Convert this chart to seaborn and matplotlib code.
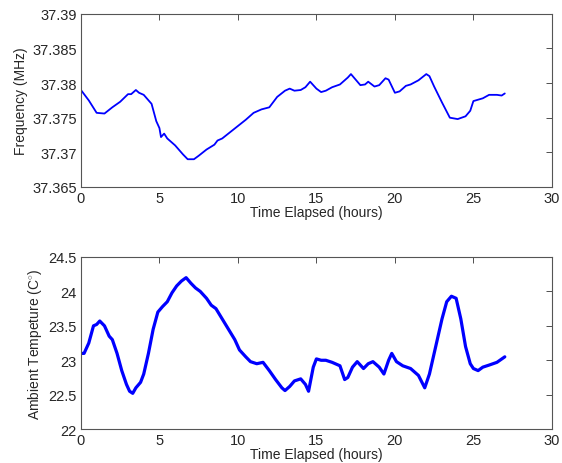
import numpy as np
import pandas as pd
import seaborn as sns
import matplotlib
matplotlib.use('Agg')
import matplotlib.pyplot as plt
from matplotlib.ticker import FuncFormatter

# frequency drift of the oscillator
freq_hours = [0, 0.5, 1.0, 1.5, 2.0, 2.5, 3.0, 3.2, 3.5, 3.7, 4.0, 4.5, 4.8, 5.0,
              5.1, 5.3, 5.5, 6.0, 6.5, 6.8, 7.2, 7.5, 8.0, 8.5, 8.7, 9.0, 9.5,
              10.0, 10.5, 11.0, 11.5, 12.0, 12.5, 13.0, 13.3, 13.6, 14.0, 14.3,
              14.6, 15.0, 15.3, 15.6, 16.0, 16.5, 17.0, 17.2, 17.5, 17.8, 18.1,
              18.3, 18.7, 19.0, 19.4, 19.6, 20.0, 20.3, 20.7, 21.0, 21.5, 22.0,
              22.2, 22.5, 23.0, 23.5, 24.0, 24.5, 24.8, 25.0, 25.3, 25.6, 26.0,
              26.5, 26.8, 27.0]
freq_mhz = [37.3790, 37.3775, 37.3757, 37.3756, 37.3765, 37.3773, 37.3784, 37.3784,
            37.3790, 37.3786, 37.3783, 37.3770, 37.3745, 37.3735, 37.3722, 37.3727,
            37.3720, 37.3710, 37.3697, 37.3690, 37.3690, 37.3695, 37.3704, 37.3711,
            37.3717, 37.3720, 37.3729, 37.3738, 37.3747, 37.3757, 37.3762, 37.3765,
            37.3780, 37.3789, 37.3792, 37.3789, 37.3790, 37.3794, 37.3802, 37.3792,
            37.3787, 37.3789, 37.3794, 37.3798, 37.3808, 37.3813, 37.3805, 37.3797,
            37.3798, 37.3802, 37.3795, 37.3797, 37.3807, 37.3805, 37.3786, 37.3788,
            37.3796, 37.3798, 37.3804, 37.3813, 37.3810, 37.3795, 37.3772, 37.3750,
            37.3748, 37.3752, 37.3760, 37.3774, 37.3776, 37.3778, 37.3783, 37.3783,
            37.3782, 37.3785]

# ambient temperature over the same run
temp_hours = [0, 0.2, 0.5, 0.8, 1.0, 1.2, 1.5, 1.8, 2.0, 2.3, 2.6, 2.9, 3.1, 3.3,
              3.5, 3.8, 4.0, 4.3, 4.6, 4.9, 5.2, 5.5, 5.8, 6.1, 6.4, 6.7, 7.0,
              7.3, 7.6, 8.0, 8.3, 8.6, 9.0, 9.4, 9.8, 10.1, 10.5, 10.8, 11.2,
              11.6, 12.0, 12.4, 12.8, 13.0, 13.3, 13.6, 14.0, 14.3, 14.5, 14.8,
              15.0, 15.3, 15.6, 16.0, 16.5, 16.8, 17.0, 17.3, 17.6, 18.0, 18.3,
              18.6, 19.0, 19.3, 19.6, 19.8, 20.1, 20.5, 21.0, 21.5, 21.9, 22.2,
              22.6, 23.0, 23.3, 23.6, 23.9, 24.2, 24.5, 24.8, 25.0, 25.3, 25.6,
              26.0, 26.5, 27.0]
temp_c = [23.10, 23.10, 23.25, 23.50, 23.52, 23.57, 23.50, 23.35, 23.30, 23.10,
          22.85, 22.65, 22.55, 22.52, 22.60, 22.68, 22.80, 23.10, 23.45, 23.70,
          23.78, 23.85, 23.98, 24.08, 24.15, 24.20, 24.12, 24.05, 24.00, 23.90,
          23.80, 23.75, 23.60, 23.45, 23.30, 23.15, 23.05, 22.98, 22.95, 22.97,
          22.85, 22.72, 22.60, 22.56, 22.62, 22.70, 22.73, 22.65, 22.55, 22.90,
          23.02, 23.00, 23.00, 22.97, 22.92, 22.72, 22.75, 22.90, 22.98, 22.88,
          22.95, 22.98, 22.90, 22.80, 23.00, 23.10, 22.98, 22.92, 22.88, 22.78,
          22.60, 22.80, 23.20, 23.60, 23.85, 23.93, 23.90, 23.60, 23.20, 22.95,
          22.88, 22.85, 22.90, 22.93, 22.97, 23.05]

freq = pd.DataFrame({'hours': freq_hours, 'mhz': freq_mhz})
temp = pd.DataFrame({'hours': temp_hours, 'deg': temp_c})

sns.set_style('white')
plt.rcParams['font.family'] = ['Liberation Sans', 'DejaVu Sans']
plt.rcParams['font.size'] = 10
plt.rcParams['mathtext.fontset'] = 'custom'
plt.rcParams['mathtext.rm'] = 'Liberation Sans'

fig = plt.figure(figsize=(5.62, 4.64), dpi=100)
ax1 = fig.add_axes([0.144, 0.595, 0.838, 0.373])
ax2 = fig.add_axes([0.144, 0.073, 0.838, 0.371])

sns.lineplot(data=freq, x='hours', y='mhz', ax=ax1, color='#0000ff',
             linewidth=1.3, estimator=None, sort=False)
sns.lineplot(data=temp, x='hours', y='deg', ax=ax2, color='#0000ff',
             linewidth=2.3, estimator=None, sort=False)

fmt = FuncFormatter(lambda v, p: f'{v:g}')
ax1.set(xlim=(0, 30), ylim=(37.365, 37.39),
        xticks=range(0, 31, 5), yticks=np.arange(37.365, 37.3901, 0.005),
        xlabel='Time Elapsed (hours)', ylabel='Frequency (MHz)')
ax2.set(xlim=(0, 30), ylim=(22, 24.5),
        xticks=range(0, 31, 5), yticks=np.arange(22, 24.51, 0.5),
        xlabel='Time Elapsed (hours)', ylabel=r'Ambient Tempeture (C$^{\circ}$)')

for ax in (ax1, ax2):
    ax.yaxis.set_major_formatter(fmt)
    ax.tick_params(direction='in', length=4, width=0.6, top=True, right=True,
                   labelsize=10.5, color='#333333', pad=3)
    ax.xaxis.labelpad = 0
    ax.yaxis.labelpad = 3
    for s in ax.spines.values():
        s.set_color('#555555')
        s.set_linewidth(0.8)

fig.savefig('out.png', dpi=100)
